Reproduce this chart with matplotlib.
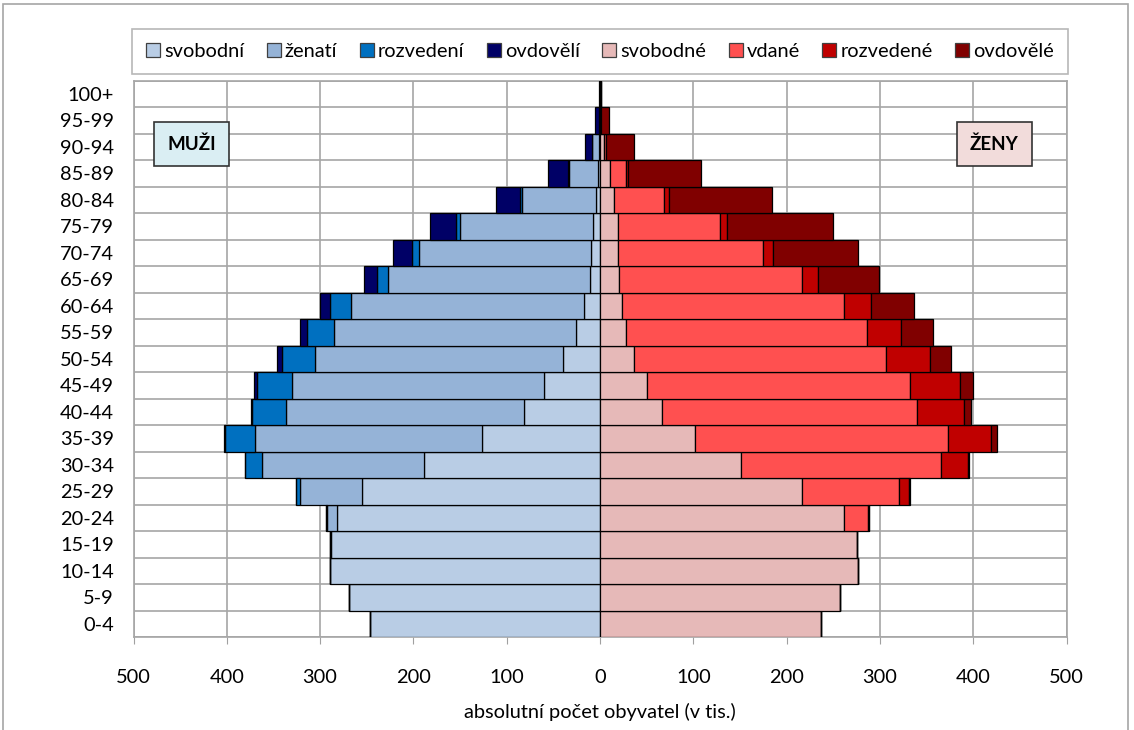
import matplotlib
matplotlib.use('Agg')
import matplotlib.pyplot as plt
import numpy as np
from matplotlib.patches import Patch, Rectangle

plt.rcParams['font.family'] = ['Lato', 'DejaVu Sans']

# age groups, bottom to top
ages = ['0-4', '5-9', '10-14', '15-19', '20-24', '25-29', '30-34', '35-39', '40-44',
        '45-49', '50-54', '55-59', '60-64', '65-69', '70-74', '75-79', '80-84',
        '85-89', '90-94', '95-99', '100+']

# men (thousands)
m_svobodni = [247, 269, 289, 288, 282, 255, 189, 126, 81, 60, 40, 26, 17, 11, 10, 7.5, 4, 2, 1.5, 0.5, 0.3]
m_zenati = [0, 0, 0, 1.4, 11, 67, 173, 244, 256, 270, 265, 259, 250, 216, 184, 143, 80, 31.5, 7, 1, 0.2]
m_rozvedeni = [0, 0, 0, 0, 0.3, 3.6, 18, 32, 36, 38, 36, 29, 22, 12, 8, 4.3, 2, 1, 0.3, 0.1, 0]
m_ovdoveli = [0, 0, 0, 0, 0, 0.3, 0.5, 0.6, 1, 3, 5.4, 8, 11, 14, 20, 27, 26, 21.5, 7.5, 3.5, 0.5]

# women (thousands)
z_svobodne = [236.5, 257, 276.5, 275.5, 261.5, 216, 151, 101.5, 66.5, 50.5, 36.5, 28, 24, 20.5, 19.5, 19.5, 15, 10.5, 4, 1, 0.5]
z_vdane = [0, 0, 0, 0, 26, 105, 214, 272, 273, 282, 270, 258, 237, 196, 155, 109, 53.5, 17, 2, 0.3, 0.1]
z_rozvedene = [0, 0, 0, 0, 0.5, 10, 29, 46, 51, 53.5, 47, 37, 29, 17.5, 10.5, 8, 5.5, 2, 0.5, 0.1, 0]
z_ovdovele = [0, 0, 0, 0, 0.2, 1, 1.5, 5.5, 7, 14, 22.5, 33.5, 47, 64.5, 91, 113, 110, 79, 30, 8.5, 1]

men = [m_svobodni, m_zenati, m_rozvedeni, m_ovdoveli]
women = [z_svobodne, z_vdane, z_rozvedene, z_ovdovele]
men_labels = ['svobodní', 'ženatí', 'rozvedení', 'ovdovělí']
women_labels = ['svobodné', 'vdané', 'rozvedené', 'ovdovělé']
men_colors = ['#B9CDE5', '#95B3D7', '#0070C0', '#000066']
women_colors = ['#E6B9B8', '#FF5050', '#C00000', '#800000']

fig = plt.figure(figsize=(11.34, 7.30), dpi=100)
ax = fig.add_axes([133.5 / 1134, 1 - 637 / 730, 933 / 1134, (637 - 80.5) / 730])

y = np.arange(len(ages))
left = np.zeros(len(ages))
for vals, c in zip(men, men_colors):
    v = np.array(vals, dtype=float)
    ax.barh(y, -v, left=-left, height=1.0, color=c, edgecolor='black', linewidth=0.9, zorder=3)
    left += v
left = np.zeros(len(ages))
for vals, c in zip(women, women_colors):
    v = np.array(vals, dtype=float)
    ax.barh(y, v, left=left, height=1.0, color=c, edgecolor='black', linewidth=0.9, zorder=3)
    left += v

ax.set_xlim(-500, 500)
ax.set_ylim(-0.5, len(ages) - 0.5)
ticks = np.arange(-500, 501, 100)
ax.set_xticks(ticks)
ax.set_xticklabels([str(abs(t)) for t in ticks], fontsize=14.4)
ax.set_yticks(y)
ax.set_yticklabels(ages, fontsize=14.4)
ax.set_yticks(np.arange(-0.5, len(ages), 1.0), minor=True)
ax.tick_params(axis='y', which='both', length=0, pad=14)
ax.tick_params(axis='x', length=5, color='#A0A0A0', pad=18)
ax.grid(axis='x', color='#A6A6A6', linewidth=1.2, zorder=0)
ax.grid(axis='y', which='minor', color='#A6A6A6', linewidth=1.2, zorder=0)
ax.grid(axis='y', which='major', visible=False)
for s in ax.spines.values():
    s.set_color('#A6A6A6')
    s.set_linewidth(1.2)
ax.set_xlabel('absolutní počet obyvatel (v tis.)', fontsize=14.4, labelpad=12)

ax.text(-437.5, 18.1, 'MUŽI', ha='center', va='center', fontsize=13.5, fontweight='bold', zorder=5,
        bbox=dict(boxstyle='square,pad=0.7', facecolor='#DAEEF3', edgecolor='#333333', linewidth=1.2))
ax.text(422.5, 18.1, 'ŽENY', ha='center', va='center', fontsize=13.5, fontweight='bold', zorder=5,
        bbox=dict(boxstyle='square,pad=0.7', facecolor='#F2DCDB', edgecolor='#333333', linewidth=1.2))

handles = [Patch(facecolor=c, edgecolor='#404040', linewidth=0.9, label=l)
           for c, l in zip(men_colors + women_colors, men_labels + women_labels)]
leg = fig.legend(handles=handles, loc='lower left', ncol=8, mode='expand',
                 bbox_to_anchor=(132 / 1134, 1 - 74 / 730, 936 / 1134, 49 / 730),
                 borderaxespad=0, fontsize=14.4, frameon=True, fancybox=False,
                 handlelength=0.7, handleheight=0.7, handletextpad=0.2,
                 columnspacing=0.5, borderpad=0.7)
leg.get_frame().set_edgecolor('#A6A6A6')
leg.get_frame().set_linewidth(1.2)

fig.add_artist(Rectangle((3 / 1134, -0.1), 1125 / 1134, 1.1 - 4 / 730, transform=fig.transFigure,
                         fill=False, edgecolor='#A6A6A6', linewidth=1.2))

fig.savefig('out.png', dpi=100)
